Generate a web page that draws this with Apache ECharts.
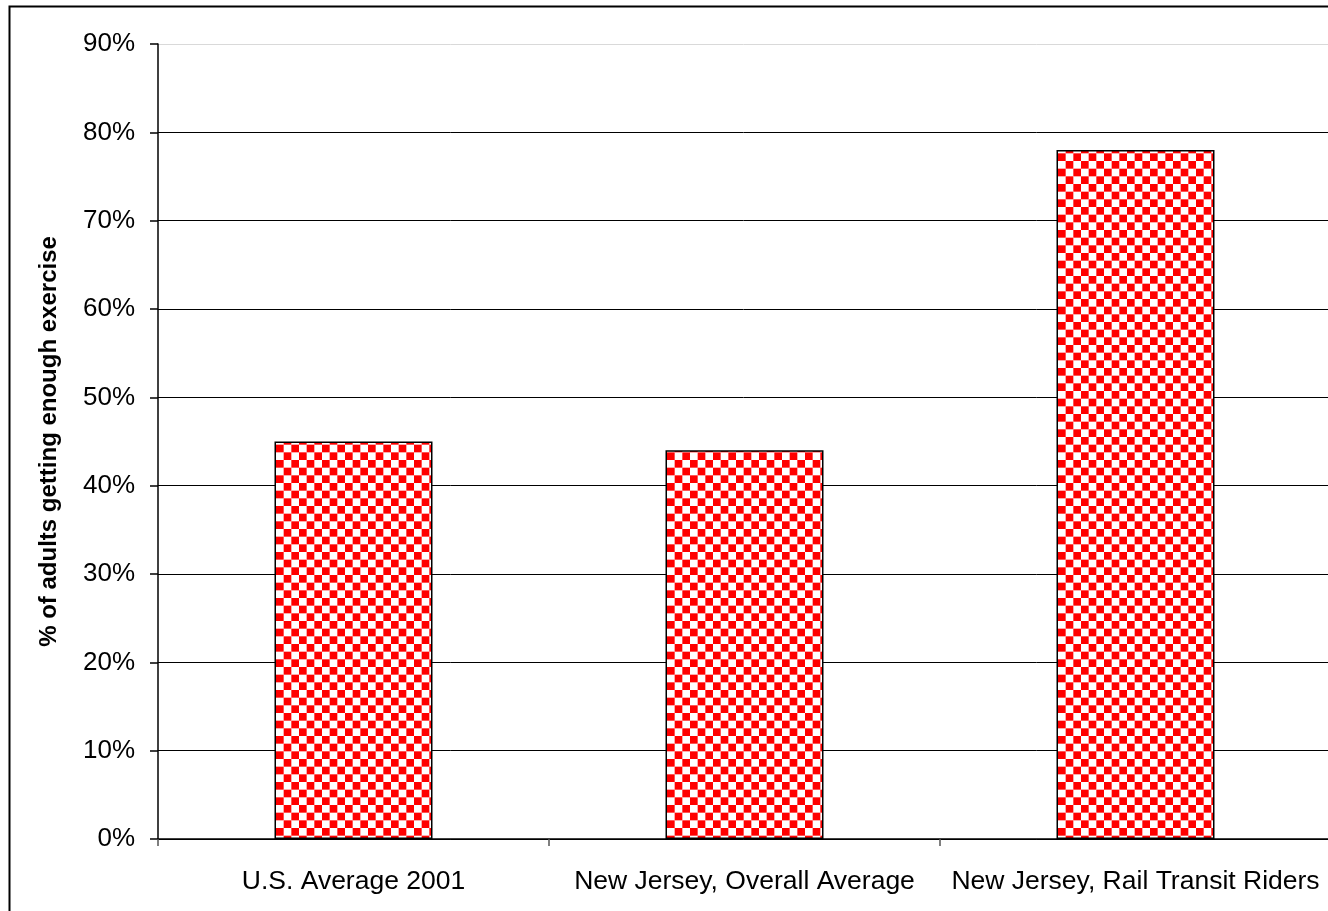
<!DOCTYPE html>
<html>
<head>
<meta charset="utf-8">
<script src="https://cdn.jsdelivr.net/npm/echarts@6/dist/echarts.min.js"></script>
<style>
  html, body { margin: 0; padding: 0; background: #fff; }
  #chart { width: 1328px; height: 911px; }
</style>
</head>
<body>
<div id="chart"></div>
<script>
// Share of adults getting enough exercise
const categories = ['U.S. Average 2001', 'New Jersey, Overall Average', 'New Jersey, Rail Transit Riders'];
const shares = [0.45, 0.44, 0.78];
const yAxisName = '% of adults getting enough exercise';
const yTicks = [0, 0.1, 0.2, 0.3, 0.4, 0.5, 0.6, 0.7, 0.8, 0.9];

const FONT = '"Liberation Sans", Arial, sans-serif';

// Red/white checkerboard fill for the bars
function checkerPattern() {
  const size = 46, n = 6, cell = size / n;
  const c = document.createElement('canvas');
  c.width = size; c.height = size;
  const ctx = c.getContext('2d');
  ctx.fillStyle = '#ffffff';
  ctx.fillRect(0, 0, size, size);
  ctx.fillStyle = '#ff0000';
  for (let r = 0; r < n; r++) {
    for (let k = 0; k < n; k++) {
      if ((r + k) % 2 === 0) ctx.fillRect(k * cell, r * cell, cell, cell);
    }
  }
  return c;
}

// Gridlines are black except the topmost one, which is light grey
const splitColors = yTicks.map((v, i) => i === yTicks.length - 1 ? '#d9d9d9' : '#000000');

const chart = echarts.init(document.getElementById('chart'), null, { renderer: 'canvas' });
chart.setOption({
  animation: false,
  backgroundColor: '#ffffff',
  // plot area runs slightly past the right edge of the canvas
  grid: { left: 158, right: -3, top: 44, bottom: 72, containLabel: false, outerBoundsMode: 'none' },
  xAxis: {
    type: 'category',
    data: categories,
    boundaryGap: true,
    axisLine: { lineStyle: { color: '#000', width: 1.5 } },
    axisTick: { show: true, alignWithLabel: false, length: 7, lineStyle: { color: '#555', width: 1.5 } },
    axisLabel: { color: '#000', fontFamily: FONT, fontSize: 26.5, margin: 29, interval: 0 }
  },
  yAxis: {
    type: 'value',
    min: yTicks[0],
    max: yTicks[yTicks.length - 1],
    interval: 0.1,
    name: yAxisName,
    nameLocation: 'middle',
    nameGap: 97,
    nameRotate: 90,
    nameTextStyle: { color: '#000', fontFamily: FONT, fontSize: 24, fontWeight: 'bold' },
    axisLine: { show: true, lineStyle: { color: '#000', width: 1.5 } },
    axisTick: { show: true, inside: false, length: 8, lineStyle: { color: '#000', width: 1.5 } },
    axisLabel: {
      color: '#000', fontFamily: FONT, fontSize: 26, margin: 23,
      formatter: v => Math.round(v * 100) + '%'
    },
    splitLine: { show: true, lineStyle: { color: splitColors, width: 1 } }
  },
  series: [{
    type: 'bar',
    data: shares,
    barWidth: 158,
    itemStyle: {
      color: { image: checkerPattern(), repeat: 'repeat' },
      borderColor: '#000',
      borderWidth: 1.5
    }
  }],
  graphic: [{
    type: 'rect',
    left: 7, top: 4,
    shape: { width: 1400, height: 1000 },
    style: { fill: 'none', stroke: '#000', lineWidth: 2 },
    silent: true
  }]
});
</script>
</body>
</html>
